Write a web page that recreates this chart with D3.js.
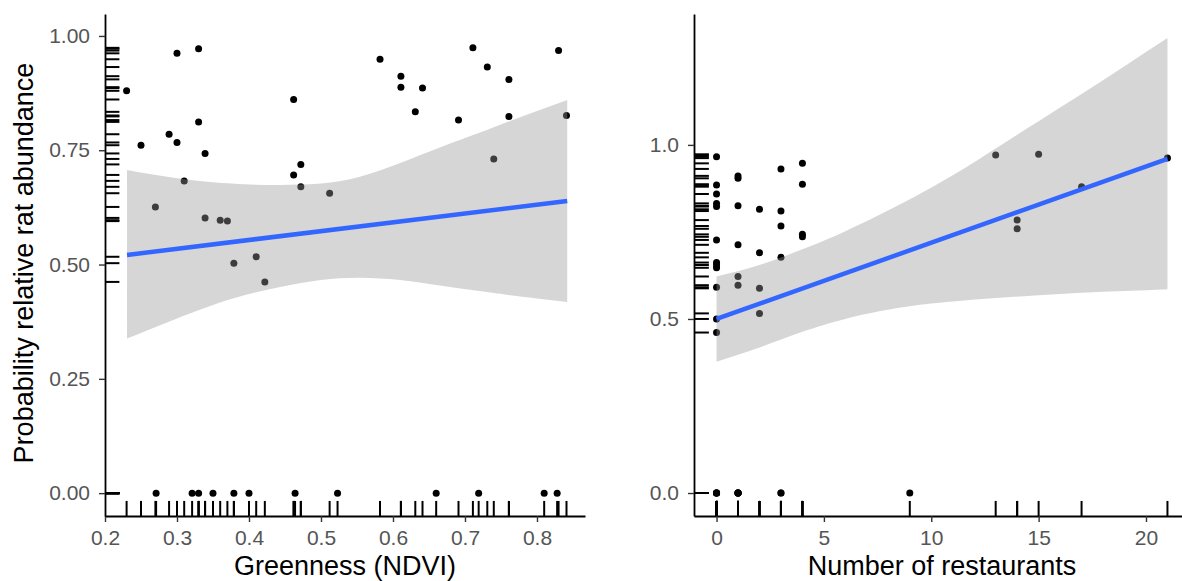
<!DOCTYPE html>
<html>
<head>
<meta charset="utf-8">
<script src="https://cdn.jsdelivr.net/npm/d3@7"></script>
<style>
  html, body { margin: 0; padding: 0; background: #fff; }
  svg { display: block; font-family: "Liberation Sans", Arial, Helvetica, sans-serif; }
</style>
</head>
<body>
<svg id="chart" width="1182" height="581"></svg>
<script>
// ---------------- DATA ----------------
// Left panel: Greenness (NDVI) vs probability of relative rat abundance
const greenX = [0.230,0.300,0.330,0.250,0.289,0.300,0.330,0.339,0.462,0.472,0.462,0.472,0.512,0.310,0.270,0.339,0.360,0.370,0.379,0.410,0.422,0.582,0.611,0.611,0.641,0.631,0.691,0.711,0.731,0.761,0.761,0.830,0.841,0.740,
                0.271,0.321,0.330,0.350,0.379,0.400,0.464,0.523,0.660,0.719,0.810,0.828];
const greenY = [0.880,0.962,0.972,0.761,0.785,0.767,0.812,0.743,0.861,0.719,0.696,0.670,0.656,0.683,0.626,0.602,0.597,0.595,0.503,0.517,0.462,0.949,0.912,0.888,0.886,0.834,0.816,0.974,0.932,0.905,0.824,0.968,0.826,0.731,
                0,0,0,0,0,0,0,0,0,0,0,0];
// smoother (fit and confidence band)
const greenFitX = [0.2306, 0.842];
const greenFitY = [0.521, 0.639];
const greenBandX = [0.2306,0.30,0.376,0.44,0.50,0.554,0.61,0.665,0.72,0.758,0.80,0.842];
const greenBandHi = [0.707,0.689,0.677,0.674,0.677,0.692,0.722,0.756,0.788,0.811,0.836,0.860];
const greenBandLo = [0.338,0.382,0.425,0.450,0.466,0.471,0.466,0.454,0.442,0.434,0.426,0.418];
const greenXTicks = [0.2,0.3,0.4,0.5,0.6,0.7,0.8];
const greenYTicks = [0,0.25,0.5,0.75,1];

// Right panel: Number of restaurants
const restX = [0,0,0,0,0,0,0,0,0,0,0,0,
               1,1,1,1,1,1,
               2,2,2,2,
               3,3,3,3,
               4,4,4,4,
               13,14,14,15,17,21,
               0,0,0,0,1,1,1,1,1,3,3,9];
const restY = [0.966,0.885,0.859,0.832,0.823,0.727,0.662,0.655,0.647,0.591,0.500,0.461,
               0.911,0.904,0.825,0.713,0.622,0.597,
               0.815,0.690,0.588,0.516,
               0.931,0.810,0.767,0.677,
               0.947,0.887,0.743,0.736,
               0.971,0.784,0.759,0.973,0.880,0.962,
               0,0,0,0,0,0,0,0,0,0,0,0];
const restFitX = [0, 21];
const restFitY = [0.500, 0.960];
const restBandX = [0,2,4,6,8.5,11,13,15,17,19,21];
const restBandHi = [0.622,0.655,0.700,0.752,0.828,0.913,0.990,1.068,1.146,1.226,1.307];
const restBandLo = [0.377,0.418,0.463,0.500,0.532,0.550,0.560,0.568,0.575,0.580,0.585];
const restXTicks = [0,5,10,15,20];
const restYTicks = [0,0.5,1.0];

// ---------------- DRAW ----------------
const svg = d3.select("#chart");
const TOP = 14, BOTTOM = 516;

function panel(opts) {
  const x = d3.scaleLinear().domain(opts.xDomain).range(opts.xRange);
  const y = d3.scaleLinear().domain(opts.yDomain).range([BOTTOM, TOP]);
  const g = svg.append("g");
  const pts = opts.xs.map((v, i) => ({x: v, y: opts.ys[i]}));

  // points
  g.append("g").selectAll("circle").data(pts).join("circle")
    .attr("cx", d => x(d.x)).attr("cy", d => y(d.y)).attr("r", 3.5)
    .attr("fill", "#000");

  // confidence band
  const band = opts.bandX.map((v, i) => ({x: v, lo: opts.bandLo[i], hi: opts.bandHi[i]}));
  g.append("path").datum(band)
    .attr("d", d3.area().curve(d3.curveNatural).x(d => x(d.x)).y0(d => y(d.lo)).y1(d => y(d.hi)))
    .attr("fill", "#999999").attr("fill-opacity", 0.4);

  // fit line
  const fit = opts.fitX.map((v, i) => ({x: v, y: opts.fitY[i]}));
  g.append("path").datum(fit)
    .attr("d", d3.line().x(d => x(d.x)).y(d => y(d.y)))
    .attr("fill", "none").attr("stroke", "#3366FF").attr("stroke-width", 4.5);

  // rugs
  const rugLenX = 0.03 * (opts.xRange[1] - opts.xRange[0]);
  const rugLenY = 0.03 * (BOTTOM - TOP);
  const x0 = opts.xRange[0];
  g.append("g").selectAll("line").data(pts).join("line")
    .attr("x1", d => x(d.x)).attr("x2", d => x(d.x))
    .attr("y1", BOTTOM).attr("y2", BOTTOM - rugLenY)
    .attr("stroke", "#000").attr("stroke-width", 2);
  g.append("g").selectAll("line").data(pts).join("line")
    .attr("x1", x0).attr("x2", x0 + rugLenX)
    .attr("y1", d => y(d.y)).attr("y2", d => y(d.y))
    .attr("stroke", "#000").attr("stroke-width", 2);

  // axes
  const ax = g.append("g").attr("transform", `translate(0,${BOTTOM})`)
    .call(d3.axisBottom(x).tickValues(opts.xTicks).tickFormat(opts.xFmt)
      .tickSizeInner(6).tickSizeOuter(0).tickPadding(8));
  const ay = g.append("g").attr("transform", `translate(${x0},0)`)
    .call(d3.axisLeft(y).tickValues(opts.yTicks).tickFormat(opts.yFmt)
      .tickSizeInner(6).tickSizeOuter(0).tickPadding(9));
  [ax, ay].forEach(a => {
    a.select(".domain").attr("stroke", "#000").attr("stroke-width", 1.8);
    a.selectAll(".tick line").attr("stroke", "#333").attr("stroke-width", 1.4);
    a.selectAll(".tick text").attr("fill", "#555")
      .style("font-size", "21px").style("font-family", "'Liberation Sans', Arial, sans-serif");
  });

  // x title
  g.append("text")
    .attr("x", (opts.xRange[0] + opts.xRange[1]) / 2).attr("y", 575)
    .attr("text-anchor", "middle").attr("fill", "#000")
    .style("font-size", "27px").text(opts.xTitle);
  return g;
}

panel({
  xs: greenX, ys: greenY,
  xDomain: [0.2, 0.8667], xRange: [105, 585],
  yDomain: [-0.05, 1.048],
  bandX: greenBandX, bandLo: greenBandLo, bandHi: greenBandHi,
  fitX: greenFitX, fitY: greenFitY,
  xTicks: greenXTicks, yTicks: greenYTicks,
  xFmt: d3.format(".1f"), yFmt: d3.format(".2f"),
  xTitle: "Greenness (NDVI)"
});

panel({
  xs: restX, ys: restY,
  xDomain: [-1.05, 22.05], xRange: [694, 1190],
  yDomain: [-0.066, 1.376],
  bandX: restBandX, bandLo: restBandLo, bandHi: restBandHi,
  fitX: restFitX, fitY: restFitY,
  xTicks: restXTicks, yTicks: restYTicks,
  xFmt: d3.format("d"), yFmt: d3.format(".1f"),
  xTitle: "Number of restaurants"
});

// y title
svg.append("text")
  .attr("transform", "translate(33,263) rotate(-90)")
  .attr("text-anchor", "middle").attr("fill", "#000")
  .style("font-size", "27px").text("Probability relative rat abundance");
</script>
</body>
</html>
